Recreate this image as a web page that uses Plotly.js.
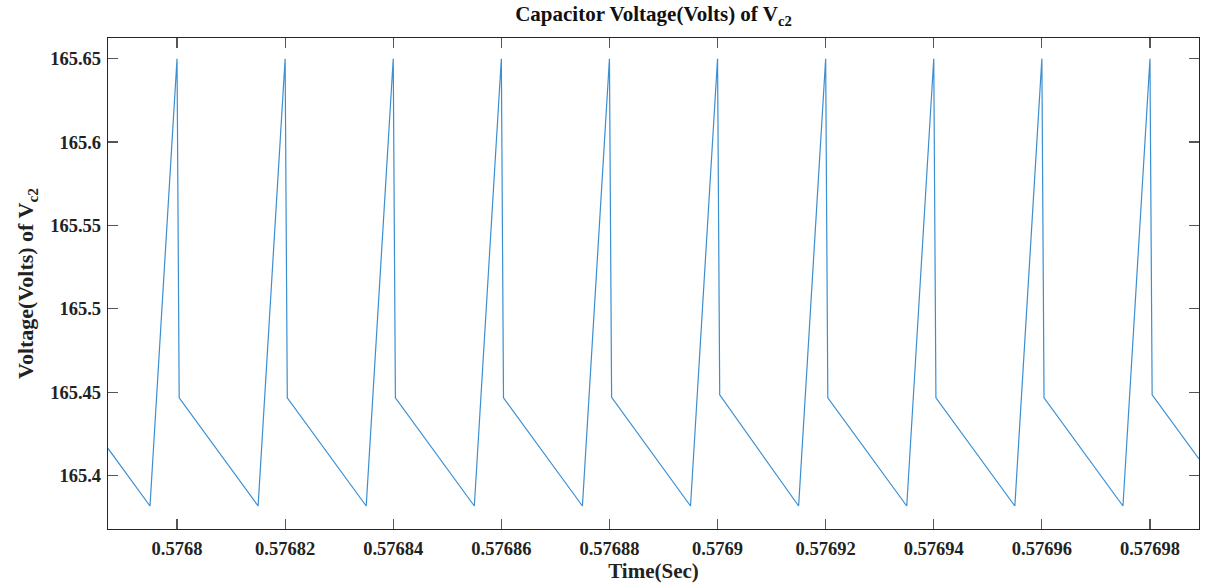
<!DOCTYPE html>
<html>
<head>
<meta charset="utf-8">
<script src="https://cdn.plot.ly/plotly-3.0.1.min.js"></script>
<style>html,body{margin:0;padding:0;background:#fff;}#chart{width:1225px;height:588px;}</style>
</head>
<body>
<div id="chart"></div>
<script>
// Time (s) of each vertex of the waveform
const timeSec = [
  0.57678723, 0.576795,
  0.5768, 0.5768004, 0.576815,
  0.57682, 0.5768204, 0.576835,
  0.57684, 0.5768404, 0.576855,
  0.57686, 0.5768604, 0.576875,
  0.57688, 0.5768804, 0.576895,
  0.5769, 0.5769004, 0.576915,
  0.57692, 0.5769204, 0.576935,
  0.57694, 0.5769404, 0.576955,
  0.57696, 0.5769604, 0.576975,
  0.57698, 0.5769804, 0.57698907
];
// Capacitor voltage Vc2 (V) at each vertex
const voltageVc2 = [
  165.4163, 165.3818,
  165.650, 165.4466, 165.3818,
  165.650, 165.4466, 165.3818,
  165.650, 165.4466, 165.3818,
  165.650, 165.4466, 165.3818,
  165.650, 165.4470, 165.3818,
  165.650, 165.4484, 165.3818,
  165.650, 165.4466, 165.3818,
  165.650, 165.4466, 165.3818,
  165.650, 165.4466, 165.3818,
  165.650, 165.4484, 165.4100
];
const xTickVals = [0.5768, 0.57682, 0.57684, 0.57686, 0.57688, 0.5769, 0.57692, 0.57694, 0.57696, 0.57698];
const xTickText = ["0.5768", "0.57682", "0.57684", "0.57686", "0.57688", "0.5769", "0.57692", "0.57694", "0.57696", "0.57698"];
const yTickVals = [165.4, 165.45, 165.5, 165.55, 165.6, 165.65];
const yTickText = ["165.4", "165.45", "165.5", "165.55", "165.6", "165.65"];

const fontFam = '"Liberation Serif", "Times New Roman", serif';
const axisCol = '#262626';

const trace = {
  x: timeSec, y: voltageVc2, type: 'scatter', mode: 'lines',
  line: {color: '#3a8fd2', width: 1.2}, hoverinfo: 'skip'
};

const layout = {
  width: 1225, height: 588,
  paper_bgcolor: '#ffffff', plot_bgcolor: '#ffffff',
  margin: {l: 108, r: 26, t: 38, b: 59, pad: 0},
  showlegend: false,
  title: {
    text: 'Capacitor Voltage(Volts) of V<sub>c2</sub>',
    font: {family: fontFam, size: 21, color: '#111', weight: 'bold'},
    x: 0.5, xref: 'paper', xanchor: 'center', yref: 'container', y: 0.976, yanchor: 'middle'
  },
  xaxis: {
    range: [0.57678723, 0.57698907],
    tickvals: xTickVals, ticktext: xTickText,
    ticks: 'inside', ticklen: 10, tickwidth: 1.2, tickcolor: '#555',
    showline: true, linecolor: axisCol, linewidth: 1.2, mirror: 'allticks',
    showgrid: false, zeroline: false,
    tickfont: {family: fontFam, size: 18.5, color: '#222', weight: 'bold'},
    ticklabelstandoff: 3,
    title: {text: 'Time(Sec)', font: {family: fontFam, size: 21, color: '#222', weight: 'bold'}, standoff: 1}
  },
  yaxis: {
    range: [165.368, 165.6624],
    tickvals: yTickVals, ticktext: yTickText,
    ticks: 'inside', ticklen: 10, tickwidth: 1.2, tickcolor: '#555',
    showline: true, linecolor: axisCol, linewidth: 1.2, mirror: 'allticks',
    showgrid: false, zeroline: false,
    tickfont: {family: fontFam, size: 18.5, color: '#222', weight: 'bold'},
    ticklabelstandoff: 2,
    title: {text: 'Voltage(Volts) of V<sub>c2</sub>', font: {family: fontFam, size: 22, color: '#222', weight: 'bold'}, standoff: 10}
  }
};

Plotly.newPlot('chart', [trace], layout, {displayModeBar: false, staticPlot: true});
</script>
</body>
</html>
